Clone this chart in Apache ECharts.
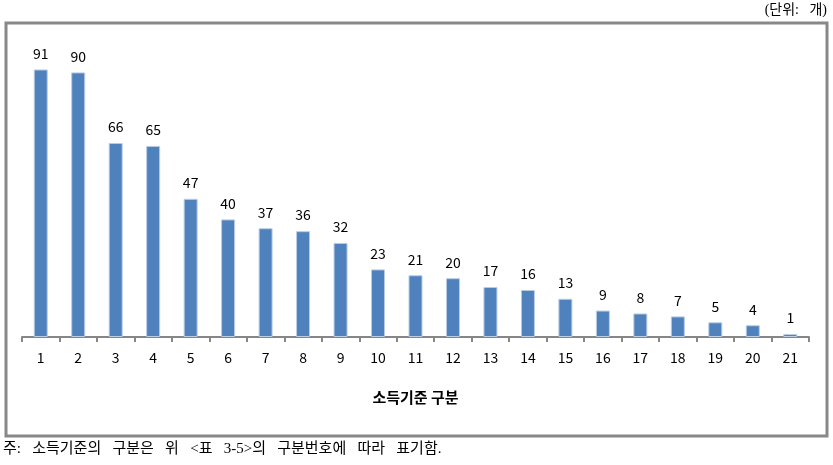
<!DOCTYPE html>
<html><head><meta charset="utf-8">
<script src="https://cdn.jsdelivr.net/npm/echarts@6/dist/echarts.min.js"></script>
<style>html,body{margin:0;padding:0;background:#fff}#c{width:833px;height:465px}</style>
</head><body><div id="c"></div>
<script>
const categories = ['1','2','3','4','5','6','7','8','9','10','11','12','13','14','15','16','17','18','19','20','21'];
const counts = [91,90,66,65,47,40,37,36,32,23,21,20,17,16,13,9,8,7,5,4,1];
const axisTitle = '소득기준 구분';
const unitText = '(단위: 개)';
const noteText = '주: 소득기준의 구분은 위 <표 3-5>의 구분번호에 따라 표기함.';

const wide = s => s.replace(/ /g, ' \u2002');
const chart = echarts.init(document.getElementById('c'));
chart.setOption({
  animation: false,
  grid: {left: 22, right: 24, top: 43, bottom: 128},
  xAxis: {
    type: 'category', data: categories, boundaryGap: true,
    axisLine: {lineStyle: {color: '#868686', width: 2}},
    axisTick: {show: true, length: 5, lineStyle: {color: '#868686', width: 2}},
    axisLabel: {color: '#000', fontSize: 14, margin: 14, fontFamily: 'Noto Sans CJK KR'},
    name: axisTitle, nameLocation: 'middle', nameGap: 53,
    nameTextStyle: {color: '#000', fontSize: 15, fontWeight: 'bold', fontFamily: 'Noto Sans CJK KR'}
  },
  yAxis: {type: 'value', min: 0, max: 100, show: false, splitLine: {show: false}},
  series: [{
    type: 'bar', data: counts, barWidth: 14,
    itemStyle: {color: '#4F81BD', borderColor: '#B9CDE5', borderWidth: 1},
    label: {show: true, position: 'top', distance: 9, color: '#000', fontSize: 14, fontFamily: 'Noto Sans CJK KR'}
  }],
  graphic: [
    {type: 'rect', shape: {x: 6, y: 23, width: 821, height: 413}, style: {fill: 'none', stroke: '#888', lineWidth: 3}},
    {type: 'text', right: 6, top: 3, style: {text: wide(unitText), fontSize: 14, fill: '#000', fontFamily: 'Liberation Serif, Noto Sans CJK KR'}},
    {type: 'text', left: 3, top: 442, style: {text: wide(noteText), fontSize: 15, fill: '#000', fontFamily: 'Liberation Serif, Noto Sans CJK KR'}}
  ]
});
</script></body></html>
